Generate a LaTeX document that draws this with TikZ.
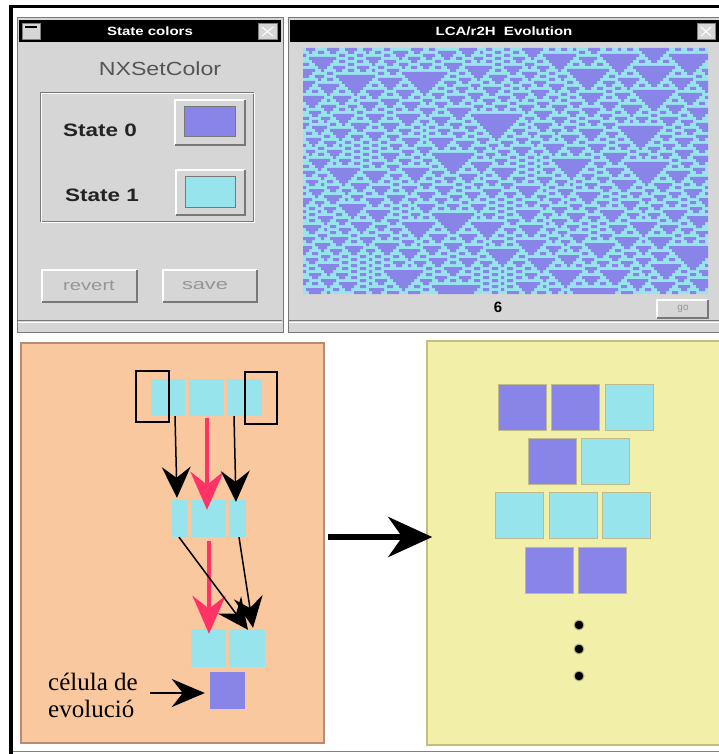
\documentclass[tikz,border=0pt]{standalone}
\usepackage{fontspec}
\usepackage{graphicx}
\setmainfont{Liberation Serif}
\setsansfont{Liberation Sans}
\usetikzlibrary{arrows.meta}
\definecolor{purp}{RGB}{136,132,232}
\definecolor{cyanc}{RGB}{152,228,236}
\definecolor{wingray}{RGB}{214,214,214}
\definecolor{windark}{RGB}{120,120,120}
\definecolor{orangep}{RGB}{250,200,158}
\definecolor{orangeb}{RGB}{184,140,116}
\definecolor{yellowp}{RGB}{242,240,168}
\definecolor{yellowb}{RGB}{196,188,128}
\definecolor{arrred}{RGB}{255,51,102}
\definecolor{sqb}{RGB}{190,186,140}
\definecolor{btntext}{RGB}{150,150,150}

% ---- cellular automaton (rule 126) ----
\newcount\CAi \newcount\CAtmp \newcount\CArow \newcount\CArs \newcount\CAy
\def\CAncols{135}
\def\CAnrows{82}
\def\CAinit{\global\CAi=0 \CAinitloop}
\def\CAinitloop{\ifnum\CAi<\CAncols\relax
  \pgfmathtruncatemacro\CArr{random(0,1)}%
  \expandafter\xdef\csname caA\the\CAi\endcsname{\CArr}%
  \global\advance\CAi by 1
  \expandafter\CAinitloop\fi}
\def\CAstep{\global\CAi=0 \CAstepa \global\CAi=0 \CAcopy}
\def\CAstepa{\ifnum\CAi<\CAncols\relax
  \CAtmp=\numexpr\CAi-1\relax
  \ifnum\CAtmp<0 \CAtmp=\numexpr\CAncols-1\relax\fi
  \edef\CAL{\csname caA\the\CAtmp\endcsname}%
  \edef\CAC{\csname caA\the\CAi\endcsname}%
  \CAtmp=\numexpr\CAi+1\relax
  \ifnum\CAtmp=\CAncols\relax \CAtmp=0 \fi
  \edef\CAR{\csname caA\the\CAtmp\endcsname}%
  \expandafter\xdef\csname caB\the\CAi\endcsname{\ifnum\CAL=\CAC\space\ifnum\CAC=\CAR\space 0\else 1\fi\else 1\fi}%
  \global\advance\CAi by 1
  \expandafter\CAstepa\fi}
\def\CAcopy{\ifnum\CAi<\CAncols\relax
  \expandafter\xdef\csname caA\the\CAi\endcsname{\csname caB\the\CAi\endcsname}%
  \global\advance\CAi by 1
  \expandafter\CAcopy\fi}
\def\CAemit{\xdef\CArowpath{\CArowpath (\the\numexpr303+3*\CArs\relax,\the\CAy) rectangle (\the\numexpr303+3*\CAi\relax,\the\numexpr\CAy+3\relax)}}
\def\CAdrawa{\ifnum\CAi<\CAncols\relax
  \ifnum\csname caA\the\CAi\endcsname=0
    \ifnum\CArs<0 \global\CArs=\CAi\fi
  \else
    \ifnum\CArs>-1 \CAemit\global\CArs=-1 \fi
  \fi
  \global\advance\CAi by 1
  \expandafter\CAdrawa
  \else
    \ifnum\CArs>-1 \CAemit\fi
  \fi}
\def\CAdrawrow{\global\CAi=0 \global\CArs=-1 \gdef\CArowpath{}\CAdrawa
  \ifx\CArowpath\empty\else\fill[purp] \CArowpath;\fi}
\def\CAwarm{\global\CArow=0 \CAwarmloop}
\def\CAwarmloop{\ifnum\CArow<20 \CAstep\global\advance\CArow by 1 \expandafter\CAwarmloop\fi}
\def\CArun{\CAinit\CAwarm\global\CArow=0 \CArunloop}
\def\CArunloop{\ifnum\CArow<\CAnrows\relax
  \global\CAy=\numexpr48+3*\CArow\relax
  \CAdrawrow
  \CAstep
  \global\advance\CArow by 1
  \expandafter\CArunloop\fi}

\newcommand\rbtn[4]{%
  \fill[wingray] (#1,#2) rectangle (#3,#4);
  \draw[white,line width=1.5pt] (#1,#4) -- (#1,#2) -- (#3,#2);
  \draw[windark,line width=1.5pt] (#1,#4) -- (#3,#4) -- (#3,#2);}

\begin{document}
\begin{tikzpicture}[x=1pt,y=-1pt,
  cell/.style={fill=cyanc,draw=none,inner sep=0pt,minimum height=37pt},
  selbox/.style={draw=black,line width=2pt,inner sep=0pt},
  sq/.style={draw=sqb,line width=1pt,inner sep=0pt,minimum width=48pt,minimum height=46pt},
  blk/.style={draw=black,line width=1.5pt,-{Stealth[length=31pt,width=29pt,inset=11pt]}},
  redarr/.style={draw=arrred,line width=4.5pt,-{Stealth[length=38pt,width=33pt,inset=13pt]}},
  wtitle/.style={text=white,font=\sffamily\bfseries\fontsize{12}{12}\selectfont},
  dot/.style={circle,fill=black,draw=sqb,line width=1pt,minimum size=10pt,inner sep=0pt}]
\useasboundingbox (0,0) rectangle (719,754);
\fill[white] (0,0) rectangle (719,754);

% outer frame
\fill[black] (9,5) rectangle (719,8);
\fill[black] (9,5) rectangle (13,754);
\draw[gray,line width=1pt] (13,751.5) -- (719,751.5);

% ===== left window =====
\draw[windark,fill=wingray,line width=1pt] (17,18) rectangle (283,332);
\fill[black] (19,20) rectangle (281,42);
\draw[gray,fill=wingray] (22,23) rectangle (40,39);
\draw[black,line width=1.2pt] (25,27) -- (37,27);
\draw[gray,fill=wingray] (258,23) rectangle (277,39);
\draw[white,line width=1pt] (262,27) -- (273,36) (262,36) -- (273,27);
\node[wtitle] (t1title) at (150,31) {\scalebox{1.25}[1]{State colors}};
\node[text={rgb,255:red,85;green,85;blue,85},font=\sffamily\fontsize{19}{19}\selectfont] (nxs) at (160,69) {\scalebox{1.22}[1]{NXSetColor}};
\draw[windark,line width=1pt] (40,93) rectangle (253,221);
\draw[white,line width=1pt] (41,94) rectangle (254,222);
\node[text={rgb,255:red,35;green,35;blue,35},font=\sffamily\bfseries\fontsize{18}{18}\selectfont] (s0) at (100,130) {\scalebox{1.25}[1]{State 0}};
\node[text={rgb,255:red,35;green,35;blue,35},font=\sffamily\bfseries\fontsize{18}{18}\selectfont] (s1) at (102,195) {\scalebox{1.25}[1]{State 1}};
\rbtn{175}{100}{245}{145}
\draw[windark,fill=purp,line width=1pt] (184,107) rectangle (235,137);
\rbtn{176}{170}{245}{215}
\draw[windark,fill=cyanc,line width=1pt] (185,177) rectangle (235,207);
\rbtn{42}{270}{137}{302}
\rbtn{163}{270}{257}{302}
\node[text=btntext,font=\sffamily\fontsize{15}{15}\selectfont] (rev) at (89,286) {\scalebox{1.35}[1]{revert}};
\node[text=btntext,font=\sffamily\fontsize{15}{15}\selectfont] (sav) at (205,286) {\scalebox{1.45}[1]{save}};
\draw[white,line width=1pt] (18,322) -- (282,322);
\draw[windark,line width=0.8pt] (18,320.5) -- (282,320.5);

% ===== right window =====
\draw[windark,fill=wingray,line width=1pt] (288,18) rectangle (725,332);
\fill[black] (290,20) rectangle (725,42);
\draw[gray,fill=wingray] (697,23) rectangle (715,39);
\draw[white,line width=1pt] (701,27) -- (711,36) (701,36) -- (711,27);
\node[wtitle] (t2title) at (504,31) {\scalebox{1.25}[1]{LCA/r2H\ \ Evolution}};
\fill[cyanc] (303,48) rectangle (708,294);
\pgfmathsetseed{4242}
\CArun
\node[font=\sffamily\bfseries\fontsize{15}{15}\selectfont] (gen) at (498,307) {6};
\rbtn{657}{300}{708}{318}
\node[text=btntext,font=\sffamily\fontsize{10}{10}\selectfont] (go) at (683,309) {go};
\draw[white,line width=1pt] (289,322) -- (725,322);
\draw[windark,line width=0.8pt] (289,320.5) -- (725,320.5);

% ===== lower left panel =====
\node[draw=orangeb,fill=orangep,line width=1.5pt,minimum width=303pt,minimum height=400pt,inner sep=0pt] (lp) at (172.5,543) {};
\node[cell,minimum width=34pt] (t1) at (168,397.5) {};
\node[cell,minimum width=35pt] (t2) at (206.5,397.5) {};
\node[cell,minimum width=35pt] (t3) at (244.5,397.5) {};
\node[selbox,minimum width=33pt,minimum height=51pt] (bl) at (152.5,396.5) {};
\node[selbox,minimum width=32pt,minimum height=52pt] (br) at (261,398) {};
\node[cell,minimum width=16pt] (m1) at (180,518.5) {};
\node[cell,minimum width=35pt] (m2) at (208.5,518.5) {};
\node[cell,minimum width=17pt] (m3) at (237.5,518.5) {};
\node[cell,minimum width=35pt,minimum height=38pt] (b1) at (208.5,648) {};
\node[cell,minimum width=36pt,minimum height=38pt] (b2) at (247,648) {};
\node[fill=purp,inner sep=0pt,minimum width=35pt,minimum height=37pt] (pc) at (227.5,690.5) {};

\draw[blk] ([xshift=7pt]t1.south) -- ([xshift=-3pt,yshift=2pt]m1.north);
\draw[redarr] ([xshift=0.5pt,yshift=-2pt]t2.south) -- ([xshift=-1.5pt,yshift=-10pt]m2.north);
\draw[blk] ([xshift=-10.5pt]t3.south) -- ([xshift=-1.5pt,yshift=-2pt]m3.north);
\draw[redarr] ([xshift=0.5pt,yshift=-4pt]m2.south) -- ([xshift=0.5pt,yshift=-5pt]b1.north);
\draw[blk] ([xshift=-1pt]m1.south) -- ([xshift=1pt,yshift=-1pt]b2.north);
\draw[blk] ([xshift=1.5pt]m3.south) -- ([xshift=6pt,yshift=1pt]b2.north);

\node[anchor=west,align=left,font=\fontsize{25}{27}\selectfont,inner sep=0pt] (lbl) at (48,695) {célula de\\evolució};
\coordinate (ts) at (150,693);
\draw[line width=2pt,-{Stealth[length=33pt,width=28pt,inset=11pt]}] (ts) -- ([xshift=-5pt,yshift=-2.5pt]pc.west);

% ===== lower right panel =====
\node[draw=yellowb,fill=yellowp,line width=1.5pt,minimum width=295pt,minimum height=404pt,inner sep=0pt] (rp) at (574.5,543) {};
\draw[line width=6pt,-{Stealth[length=44pt,width=40pt,inset=14pt]}] ([xshift=3pt,yshift=6pt]lp.east) -- ([xshift=6pt,yshift=6pt]rp.west);

\node[sq,fill=purp] (r1a) at (522,407) {};
\node[sq,fill=purp] (r1b) at (575.5,407) {};
\node[sq,fill=cyanc] (r1c) at (629,407) {};
\node[sq,fill=purp] (r2a) at (552,461) {};
\node[sq,fill=cyanc] (r2b) at (605,461) {};
\node[sq,fill=cyanc] (r3a) at (519,515) {};
\node[sq,fill=cyanc] (r3b) at (573,515) {};
\node[sq,fill=cyanc] (r3c) at (626,515) {};
\node[sq,fill=purp] (r4a) at (549,570) {};
\node[sq,fill=purp] (r4b) at (602,570) {};
\node[dot] (d1) at (579,625) {};
\node[dot] (d2) at (579,649) {};
\node[dot] (d3) at (579,676) {};
\end{tikzpicture}
\end{document}
